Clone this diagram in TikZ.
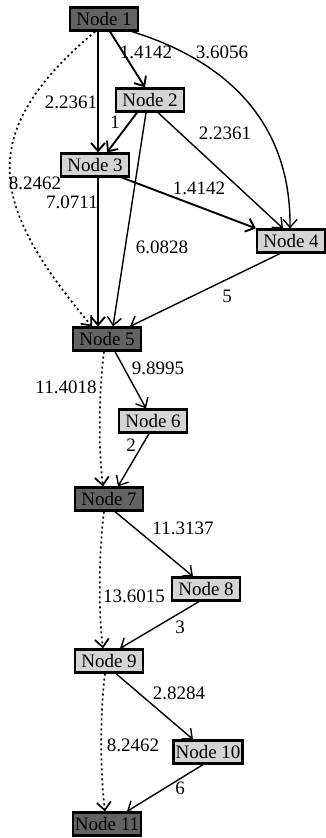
\documentclass[tikz,border=0pt]{standalone}
\usepackage{fontspec}
\setmainfont{Liberation Serif}
\usetikzlibrary{arrows.meta}
\begin{document}
\begin{tikzpicture}[x=1pt,y=-1pt,->,>={Straight Barb[length=8pt,width=14pt]},line width=1.9pt,
    every node/.style={font=\fontsize{19}{22}\selectfont},
    dark/.style={draw=black,fill=black!61,line width=2.2pt,minimum width=68pt,minimum height=23pt,inner xsep=2pt,inner ysep=0pt},
    light/.style={dark,fill=black!17},
    thinner/.style={line width=1.4pt},
    dots/.style={line width=1.7pt,dash pattern=on 2pt off 3pt}]
        \useasboundingbox (0,0) rectangle (326,838);
        \node[dark] (1) at (104,19) {Node 1};
        \node[light] (2) at (150,100) {Node 2};
        \node[light] (3) at (95,165) {Node 3};
        \node[light] (4) at (291,241) {Node 4};
        \node[dark] (5) at (107,339) {Node 5};
        \node[light] (6) at (153,421) {Node 6};
        \node[dark] (7) at (109,499) {Node 7};
        \node[light] (8) at (206,589) {Node 8};
        \node[light] (9) at (109,661) {Node 9};
        \node[light] (10) at (208,752) {Node 10};
        \node[dark] (11) at (107,824) {Node 11};
        \draw ([xshift=6]1.south) -- ([xshift=-5]2.north);
        \draw ([xshift=-6]1.south) -- ([xshift=3]3.north);
        \draw[thinner] ([xshift=28]1.south) .. controls (230,62) and (291,125) .. ([xshift=-1]4.north);
        \draw[dots] ([xshift=-9]1.south) .. controls +(-121,102) and +(-102,-121) .. ([xshift=-15]5.north);
        \draw ([xshift=-13]2.south) -- ([xshift=12]3.north);
        \draw[thinner] ([xshift=8]2.south) -- ([xshift=-8]4.north);
        \draw[thinner] ([xshift=-4]2.south) -- ([xshift=6]5.north);
        \draw ([xshift=27]3.south) -- (4.north west);
        \draw ([xshift=3]3.south) -- ([xshift=-9]5.north);
        \draw[thinner] ([xshift=-11]4.south) -- ([xshift=23]5.north);
        \draw[thinner] ([xshift=8]5.south) -- ([xshift=-7]6.north);
        \draw[dots] ([xshift=-3]5.south) .. controls +(-5,40) and +(-5,-40) .. ([xshift=-6]7.north);
        \draw[thinner] ([xshift=-4]6.south) -- ([xshift=9]7.north);
        \draw[thinner] ([xshift=6]7.south) -- ([xshift=-13]8.north);
        \draw[dots] ([xshift=-5]7.south) .. controls +(-5,40) and +(-5,-40) .. ([xshift=-6]9.north);
        \draw[thinner] ([xshift=-7]8.south) -- ([xshift=11]9.north);
        \draw[thinner] ([xshift=7]9.south) -- ([xshift=-15]10.north);
        \draw[dots] ([xshift=-4]9.south) .. controls +(-5,40) and +(-5,-40) .. ([xshift=-2]11.north);
        \draw[thinner] ([xshift=-5]10.south) -- ([xshift=20]11.north);
        \node (w12) at (146,52) {1.4142};
        \node (w14) at (222,52) {3.6056};
        \node (w13) at (71,102) {2.2361};
        \node (w23) at (115,122) {1};
        \node (w24) at (225,133) {2.2361};
        \node (w15) at (35,183) {8.2462};
        \node (w35) at (72,202) {7.0711};
        \node (w34) at (199,188) {1.4142};
        \node (w25) at (162,247) {6.0828};
        \node (w45) at (227,296) {5};
        \node (w56) at (158,368) {9.8995};
        \node (w57) at (66,387) {11.4018};
        \node (w67) at (131,445) {2};
        \node (w78) at (183,528) {11.3137};
        \node (w79) at (134,596) {13.6015};
        \node (w89) at (180,627) {3};
        \node (w910) at (179,693) {2.8284};
        \node (w911) at (133,745) {8.2462};
        \node (w1011) at (180,788) {6};
      \end{tikzpicture}
\end{document}
